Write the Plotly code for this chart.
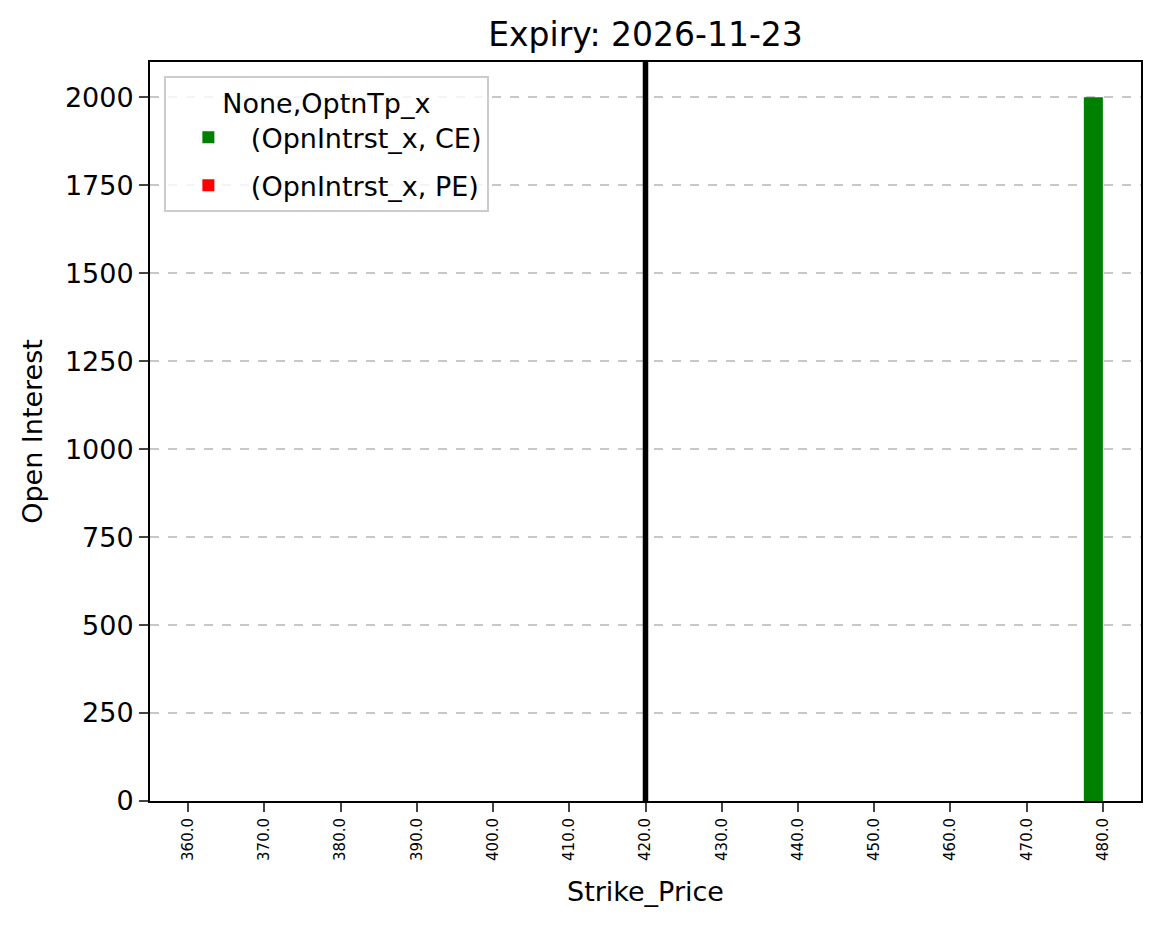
import plotly.graph_objects as go

strikes = [360.0, 370.0, 380.0, 390.0, 400.0, 410.0, 420.0, 430.0, 440.0, 450.0, 460.0, 470.0, 480.0]
ce_oi = [0, 0, 0, 0, 0, 0, 0, 0, 0, 0, 0, 0, 2000]
pe_oi = [0, 0, 0, 0, 0, 0, 0, 0, 0, 0, 0, 0, 0]
spot_price = 420.0
expiry = "2026-11-23"

labels = [f"{s:.1f}" for s in strikes]
font = "DejaVu Sans"

fig = go.Figure()
fig.add_trace(go.Bar(x=labels, y=ce_oi, name="(OpnIntrst_x, CE)", legendgroup="ce",
                     marker_color="green", marker_line_width=0))
fig.add_trace(go.Bar(x=labels, y=pe_oi, name="(OpnIntrst_x, PE)", legendgroup="pe",
                     marker_color="red", marker_line_width=0))

# spot line at the strike's category position
spot_idx = strikes.index(spot_price)
fig.add_shape(type="line", xref="x", yref="paper", x0=spot_idx, x1=spot_idx, y0=0, y1=1,
              line=dict(color="black", width=5.5), opacity=1, layer="above")

# page body has an 8px margin, so margins are shifted to land the axes where the reference has them
fig.update_layout(
    width=1161, height=928,
    template="simple_white",
    paper_bgcolor="white", plot_bgcolor="white",
    margin=dict(l=142, r=28, t=54, b=135),
    barmode="group", bargap=0.5, bargroupgap=0,
    font=dict(family=font, size=26, color="black"),
    title=dict(text=f"Expiry: {expiry}", x=0.5, xanchor="center", xref="paper",
               y=0.971, yanchor="middle", yref="container",
               font=dict(size=33, family=font)),
    legend=dict(title=dict(text="None,OptnTp_x", side="top center", font=dict(size=27)),
                x=0.014, y=0.981, xanchor="left", yanchor="top",
                bordercolor="#cccccc", borderwidth=2, bgcolor="rgba(255,255,255,0.8)",
                font=dict(size=27), itemwidth=75, tracegroupgap=10),
)
fig.update_xaxes(
    type="category", range=[-0.5, 12.5],
    tickangle=-90, tickfont=dict(size=15),
    ticks="outside", ticklen=9, tickwidth=2, showline=True, linecolor="black", linewidth=2, mirror=True,
    showgrid=False,
    title=dict(text="Strike_Price", font=dict(size=27), standoff=22),
)
fig.update_yaxes(
    range=[0, 2100], tickvals=[0, 250, 500, 750, 1000, 1250, 1500, 1750, 2000],
    tickfont=dict(size=27),
    ticks="outside", ticklen=9, tickwidth=2, showline=True, linecolor="black", linewidth=2, mirror=True,
    showgrid=True, gridcolor="#c8c8c8", griddash="dash", gridwidth=1.5,
    zeroline=False,
    title=dict(text="Open Interest", font=dict(size=27), standoff=14),
)

fig.write_html("out.html")
